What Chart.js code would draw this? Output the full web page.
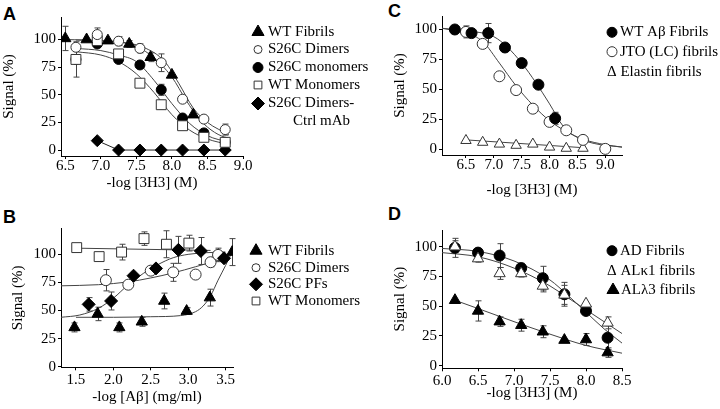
<!DOCTYPE html>
<html>
<head>
<meta charset="utf-8">
<script src="https://cdn.jsdelivr.net/npm/chart.js@4.4.1/dist/chart.umd.min.js"></script>
<style>
  body { margin: 0; background: #fff; width: 720px; height: 409px; overflow: hidden; position: relative; }
  canvas { position: absolute; }
  .pl { position: absolute; font: bold 18px/18px 'Liberation Sans', Arial, sans-serif; color: #000; }
</style>
</head>
<body>
<div class="pl" style="left:3px;top:5px">A</div>
<div class="pl" style="left:3px;top:208px">B</div>
<div class="pl" style="left:388px;top:2px">C</div>
<div class="pl" style="left:388px;top:205px">D</div>
<canvas id="chartA"></canvas>
<canvas id="chartB"></canvas>
<canvas id="chartC"></canvas>
<canvas id="chartD"></canvas>
<script>
const FONT = "'Liberation Serif', 'Times New Roman', Times, serif";

// ---- panel A : -log [3H3] (M) ----
const aTicksX = [6.5, 7.0, 7.5, 8.0, 8.5, 9.0];
const aTicksY = [0, 25, 50, 75, 100];
const aWtFibX = [6.5, 6.8, 7.1, 7.4, 7.7, 8.0, 8.3];
const aWtFibY = [101, 100, 99, 96, 84, 68, 32];
const aWtFibErr = [11, 0, 0, 3, 4, 0, 0];
const aDoseX = [6.65, 6.95, 7.25, 7.55, 7.85, 8.15, 8.45, 8.75];
const aDimY = [93, 104.5, 98.5, 92, 79, 46, 28, 18.5];
const aDimErr = [0, 6, 4, 4, 8, 0, 0, 5];
const aMonY = [82, 96, 82, 77, 54.5, 29, 15.5, 7];
const aMonErr = [0, 0, 0, 0, 5, 0, 0, 0];
const aWtMonY = [82, 99, 87, 60.5, 41, 22, 11.5, 7];
const aWtMonErr = [16, 3, 3, 3, 4, 0, 0, 0];
const aCtrlX = [6.95, 7.25, 7.55, 7.85, 8.15, 8.45, 8.75];
const aCtrlY = [8.5, 0, 0, 0, 0, 0, 0];
// fitted curves
const aFitWtFibX = [6.5, 7.0, 7.4, 7.7, 8.0, 8.2, 8.4, 8.6, 8.8];
const aFitWtFibY = [100, 99, 96, 86, 66, 45, 27, 16, 10];
const aFitDimX = [6.65, 7.0, 7.3, 7.6, 7.9, 8.1, 8.3, 8.5, 8.8];
const aFitDimY = [99.5, 99, 97.5, 93, 80, 60, 38, 25, 14];
const aFitMonX = [6.65, 7.0, 7.25, 7.5, 7.75, 8.0, 8.25, 8.5, 8.8];
const aFitMonY = [92, 90, 86, 80, 63, 42, 24, 13, 7];
const aFitWtMonY = [89, 86, 80, 69, 52, 32, 18, 10, 5];

// ---- panel B : -log [Aβ] (mg/ml) ----
const bTicksX = [1.5, 2.0, 2.5, 3.0, 3.5];
const bTicksY = [0, 25, 50, 75, 100];
const bWtFibX = [1.48, 1.79, 2.08, 2.38, 2.68, 2.98, 3.29, 3.59];
const bWtFibY = [35, 47, 35, 40, 58.5, 49.5, 61.5, 102];
const bWtFibErr = [4, 6, 4, 4, 7, 3, 7.5, 12];
const bDimX = [1.9, 2.2, 2.5, 2.8, 3.1, 3.3, 3.4];
const bDimY = [77, 73, 85.5, 84, 82, 93, 99.5];
const bDimErr = [9.5, 0, 0, 8, 0, 4, 6];
const bPfX = [1.67, 1.97, 2.27, 2.57, 2.87, 3.17, 3.48];
const bPfY = [55.5, 58.5, 81, 87.5, 104, 103, 96.5];
const bPfErr = [6, 8, 0, 0, 12, 12, 0];
const bMonX = [1.51, 1.81, 2.11, 2.41, 2.71, 3.01];
const bMonY = [106, 98, 102, 114, 109, 110];
const bMonErr = [0, 0, 7, 6, 12, 7];
const bFitMonX = [1.5, 3.3];
const bFitMonY = [105.5, 103.5];
const bFitPfX = [1.3, 1.55, 1.8, 2.0, 2.2, 2.4, 2.6, 2.8, 3.0, 3.25, 3.5];
const bFitPfY = [44, 46, 52, 61, 73, 83, 91, 97, 100, 101.5, 102];
const bFitDimX = [1.3, 1.8, 2.2, 2.5, 2.8, 3.1, 3.3, 3.6];
const bFitDimY = [72, 73, 75.5, 79, 83.5, 89, 93, 101];
const bFitWtFibX = [1.5, 2.0, 2.5, 2.9, 3.1, 3.2, 3.3, 3.4, 3.5, 3.58];
const bFitWtFibY = [44, 44, 44.5, 45.5, 49, 54, 63, 77, 90, 101];

// ---- panel C ----
const cTicksX = [6.5, 7.0, 7.5, 8.0, 8.5, 9.0];
const cTicksY = [0, 25, 50, 75, 100];
const cWtX = [6.3, 6.6, 6.9, 7.2, 7.5, 7.8, 8.1];
const cWtY = [100, 97, 97, 85, 72, 54, 26];
const cWtErr = [2, 0, 8, 3, 0, 0, 5];
const cJtoX = [6.5, 6.8, 7.1, 7.4, 7.7, 8.0, 8.3, 8.6, 9.0];
const cJtoY = [98, 88, 61, 49.5, 34, 23, 16, 8, 0.5];
const cJtoErr = [5, 0, 0, 0, 0, 0, 0, 0, 0];
const cElaX = [6.5, 6.8, 7.1, 7.4, 7.7, 8.0, 8.3, 8.6];
const cElaY = [7.5, 6, 4.5, 3.5, 4.5, 2, 1, 1];
const cFitWtX = [6.07, 6.5, 7.0, 7.25, 7.5, 7.75, 8.0, 8.25, 8.5, 8.8, 9.3];
const cFitWtY = [101, 99, 94, 85, 72, 56, 38, 19, 10, 5, 2];
const cFitJtoX = [6.07, 6.5, 6.8, 7.1, 7.4, 7.7, 8.0, 8.3, 8.6, 9.0, 9.3];
const cFitJtoY = [101, 97, 90, 72, 53, 37, 24, 15, 8.5, 4, 2];
const cFitElaX = [6.5, 8.6];
const cFitElaY = [8, 1.5];

// ---- panel D ----
const dTicksX = [6.0, 6.5, 7.0, 7.5, 8.0, 8.5];
const dTicksY = [0, 25, 50, 75, 100];
const dX = [6.18, 6.5, 6.8, 7.1, 7.4, 7.7, 8.0, 8.3];
const dAdY = [99, 95, 92.5, 82, 73.5, 60, 46, 23.5];
const dAdErr = [8, 3.5, 10, 4, 10, 10, 0, 10];
const dAlkY = [100, 90, 77.5, 77.5, 67, 59.5, 52, 36];
const dAlkErr = [5, 3, 5, 3, 5, 8, 0, 5];
const dAllY = [55, 46, 37, 34, 28.5, 21.5, 22, 11];
const dAllErr = [0, 8.5, 4, 5, 5, 0, 5, 4];
const dFitX = [6.0, 6.5, 7.0, 7.5, 7.75, 8.0, 8.25, 8.5];
const dFitAdY = [98.5, 96, 88, 72, 59, 45, 31, 19];
const dFitAlkY = [95, 91.5, 82, 67, 57, 47, 37, 27];
const dFitAllX = [6.18, 6.5, 7.0, 7.5, 8.0, 8.5];
const dFitAllY = [55, 48, 37, 26.5, 17, 10.5];

function pts(xs, ys) { return xs.map((x, i) => ({ x: x, y: ys[i] })); }

function marks(label, xs, ys, errs, style, filled, r, line) {
  return {
    label: label,
    data: pts(xs, ys),
    errs: errs,
    pointStyle: style,
    pointRadius: r,
    pointBackgroundColor: filled ? '#000' : '#fff',
    pointBorderColor: filled ? '#000' : '#333',
    pointBorderWidth: 1,
    showLine: !!line,
    borderColor: '#222',
    borderWidth: 1
  };
}

function fit(xs, ys) {
  return {
    data: pts(xs, ys),
    showLine: true,
    pointRadius: 0,
    borderColor: '#444',
    borderWidth: 1,
    cubicInterpolationMode: 'monotone'
  };
}

function drawMark(ctx, style, x, y, r) {
  ctx.beginPath();
  if (style === 'circle') {
    ctx.arc(x, y, r, 0, Math.PI * 2);
  } else if (style === 'triangle') {
    for (let k = 0; k < 3; k++) {
      const a = k * 2 * Math.PI / 3;
      const px = x + Math.sin(a) * r, py = y - Math.cos(a) * r;
      if (k === 0) ctx.moveTo(px, py); else ctx.lineTo(px, py);
    }
    ctx.closePath();
  } else if (style === 'rect') {
    const h = r * Math.SQRT1_2;
    ctx.rect(x - h, y - h, 2 * h, 2 * h);
  } else if (style === 'rectRot') {
    ctx.moveTo(x, y - r); ctx.lineTo(x + r, y); ctx.lineTo(x, y + r); ctx.lineTo(x - r, y);
    ctx.closePath();
  }
  ctx.fill();
  ctx.stroke();
}

const errorBars = {
  id: 'errorBars',
  beforeDatasetsDraw(chart) {
    const ctx = chart.ctx, x = chart.scales.x, y = chart.scales.y;
    ctx.save();
    ctx.strokeStyle = '#444';
    ctx.lineWidth = 1;
    chart.data.datasets.forEach(ds => {
      if (!ds.errs) return;
      ds.data.forEach((p, i) => {
        const e = ds.errs[i];
        if (!e) return;
        const px = Math.round(x.getPixelForValue(p.x)) + 0.5;
        const t = y.getPixelForValue(p.y + e), b = y.getPixelForValue(p.y - e);
        ctx.beginPath();
        ctx.moveTo(px, t); ctx.lineTo(px, b);
        ctx.moveTo(px - 3, t); ctx.lineTo(px + 3, t);
        ctx.moveTo(px - 3, b); ctx.lineTo(px + 3, b);
        ctx.stroke();
      });
    });
    ctx.restore();
  }
};

const sideLegend = {
  id: 'sideLegend',
  afterDraw(chart, args, o) {
    if (!o.items) return;
    const ctx = chart.ctx;
    ctx.save();
    ctx.font = '15px ' + FONT;
    ctx.textBaseline = 'middle';
    ctx.lineWidth = 1;
    o.items.forEach(it => {
      const y = it.y - o.top;
      if (it.mk) {
        ctx.fillStyle = it.fill ? '#000' : '#fff';
        ctx.strokeStyle = it.fill ? '#000' : '#333';
        drawMark(ctx, it.mk, it.mx - o.left, y, it.r);
      }
      ctx.fillStyle = '#000';
      ctx.fillText(it.text, it.tx - o.left, y);
    });
    ctx.restore();
  }
};

function makeChart(id, p) {
  const cv = document.getElementById(id);
  cv.width = p.W; cv.height = p.H;
  cv.style.left = p.L + 'px'; cv.style.top = p.T + 'px';
  cv.style.width = p.W + 'px'; cv.style.height = p.H + 'px';
  const tickFont = { family: FONT, size: 15 };
  const xTickFont = { family: FONT, size: 15, lineHeight: 1 };
  return new Chart(cv, {
    type: 'scatter',
    data: { datasets: p.datasets },
    plugins: [errorBars, sideLegend],
    options: {
      responsive: false,
      animation: false,
      events: [],
      layout: { autoPadding: false, padding: { left: 0, bottom: 0, top: p.top - p.T, right: p.L + p.W - p.right } },
      plugins: {
        legend: { display: false },
        tooltip: { enabled: false },
        sideLegend: { items: p.legend, left: p.L, top: p.T }
      },
      scales: {
        x: {
          type: 'linear', min: p.xMin, max: p.xMax,
          afterBuildTicks: s => { s.ticks = p.xTicks.map(v => ({ value: v })); },
          afterFit: s => { s.height = p.T + p.H - p.bottom; s.paddingLeft = 0; s.paddingRight = 0; },
          ticks: { font: xTickFont, color: '#000', padding: p.xPad, maxRotation: 0, autoSkip: false, callback: v => v.toFixed(1) },
          grid: { drawOnChartArea: false, drawTicks: true, tickLength: 3, color: '#000' },
          border: { display: true, color: '#000', width: 1 },
          title: { display: true, text: p.xTitle, font: tickFont, color: '#000', padding: 0 }
        },
        y: {
          type: 'linear', min: p.yMin, max: p.yMax,
          afterBuildTicks: s => { s.ticks = p.yTicks.map(v => ({ value: v })); },
          afterFit: s => { s.width = p.left - p.L; s.paddingTop = 0; s.paddingBottom = 0; },
          ticks: { font: tickFont, color: '#000', padding: 2, autoSkip: false, callback: v => String(v) },
          grid: { drawOnChartArea: false, drawTicks: true, tickLength: 3, color: '#000' },
          border: { display: true, color: '#000', width: 1 },
          title: { display: true, text: 'Signal (%)', font: tickFont, color: '#000', padding: 0 }
        }
      }
    }
  });
}

makeChart('chartA', {
  L: 0, T: 0, W: 390, H: 192, left: 61, right: 243, top: 17, bottom: 156, xPad: 0,
  xMin: 6.44, xMax: 9.0, yMin: -5.4, yMax: 120.4, xTicks: aTicksX, yTicks: aTicksY,
  xTitle: '-log [3H3] (M)',
  datasets: [
    marks('WT Fibrils', aWtFibX, aWtFibY, aWtFibErr, 'triangle', true, 6.5),
    marks('S26C Dimers', aDoseX, aDimY, aDimErr, 'circle', false, 5),
    marks('WT Monomers', aDoseX, aWtMonY, aWtMonErr, 'rect', false, 7),
    marks('S26C monomers', aDoseX, aMonY, aMonErr, 'circle', true, 5),
    marks('S26C Dimers-Ctrl mAb', aCtrlX, aCtrlY, null, 'rectRot', true, 6, true),
    fit(aFitWtFibX, aFitWtFibY),
    fit(aFitDimX, aFitDimY),
    fit(aFitMonX, aFitMonY),
    fit(aFitMonX, aFitWtMonY)
  ],
  legend: [
    { mk: 'triangle', fill: true, r: 7, mx: 258, y: 32, tx: 268, text: 'WT Fibrils' },
    { mk: 'circle', fill: false, r: 4, mx: 258, y: 49.5, tx: 268, text: 'S26C Dimers' },
    { mk: 'circle', fill: true, r: 5, mx: 258, y: 67.5, tx: 268, text: 'S26C monomers' },
    { mk: 'rect', fill: false, r: 5.5, mx: 258, y: 85, tx: 268, text: 'WT Monomers' },
    { mk: 'rectRot', fill: true, r: 6.5, mx: 258, y: 103.5, tx: 268, text: 'S26C Dimers-' },
    { y: 121.5, tx: 293, text: 'Ctrl mAb' }
  ]
});

makeChart('chartB', {
  L: 9, T: 200, W: 351, H: 206, left: 61, right: 233, top: 228.5, bottom: 367.3, xPad: 2,
  xMin: 1.3, xMax: 3.6, yMin: -0.5, yMax: 123, xTicks: bTicksX, yTicks: bTicksY,
  xTitle: '-log [Aβ] (mg/ml)',
  datasets: [
    marks('WT Fibrils', bWtFibX, bWtFibY, bWtFibErr, 'triangle', true, 6.5),
    marks('S26C PFs', bPfX, bPfY, bPfErr, 'rectRot', true, 6.5),
    marks('S26C Dimers', bDimX, bDimY, bDimErr, 'circle', false, 5.5),
    marks('WT Monomers', bMonX, bMonY, bMonErr, 'rect', false, 7),
    fit(bFitMonX, bFitMonY),
    fit(bFitPfX, bFitPfY),
    fit(bFitDimX, bFitDimY),
    fit(bFitWtFibX, bFitWtFibY)
  ],
  legend: [
    { mk: 'triangle', fill: true, r: 7, mx: 256, y: 250.7, tx: 268, text: 'WT Fibrils' },
    { mk: 'circle', fill: false, r: 4, mx: 256, y: 267.7, tx: 268, text: 'S26C Dimers' },
    { mk: 'rectRot', fill: true, r: 6.5, mx: 256, y: 284.3, tx: 268, text: 'S26C PFs' },
    { mk: 'rect', fill: false, r: 5.5, mx: 256, y: 301, tx: 268, text: 'WT Monomers' }
  ]
});

makeChart('chartC', {
  L: 391, T: 0, W: 329, H: 199, left: 442, right: 622, top: 16, bottom: 155, xPad: 0,
  xMin: 6.07, xMax: 9.3, yMin: -4.6, yMax: 111.25, xTicks: cTicksX, yTicks: cTicksY,
  xTitle: '-log [3H3] (M)',
  datasets: [
    marks('WT Aβ Fibrils', cWtX, cWtY, cWtErr, 'circle', true, 5.5),
    marks('JTO (LC) fibrils', cJtoX, cJtoY, cJtoErr, 'circle', false, 5.5),
    marks('Elastin fibrils', cElaX, cElaY, null, 'triangle', false, 6),
    fit(cFitWtX, cFitWtY),
    fit(cFitJtoX, cFitJtoY),
    fit(cFitElaX, cFitElaY)
  ],
  legend: [
    { mk: 'circle', fill: true, r: 5, mx: 612, y: 32.3, tx: 620, text: 'WT Aβ Fibrils' },
    { mk: 'circle', fill: false, r: 5, mx: 612, y: 51.7, tx: 620, text: 'JTO (LC) fibrils' },
    { y: 71.7, tx: 607, text: 'Δ Elastin fibrils' }
  ]
});

makeChart('chartD', {
  L: 391, T: 200, W: 329, H: 202, left: 442, right: 622, top: 230, bottom: 368.3, xPad: 2.5,
  xMin: 6.0, xMax: 8.5, yMin: -2.2, yMax: 114, xTicks: dTicksX, yTicks: dTicksY,
  xTitle: '-log [3H3] (M)',
  datasets: [
    marks('ALκ1 fibrils', dX, dAlkY, dAlkErr, 'triangle', false, 6.5),
    marks('AD Fibrils', dX, dAdY, dAdErr, 'circle', true, 5.5),
    marks('ALλ3 fibrils', dX, dAllY, dAllErr, 'triangle', true, 6.5),
    fit(dFitX, dFitAdY),
    fit(dFitX, dFitAlkY),
    fit(dFitAllX, dFitAllY)
  ],
  legend: [
    { mk: 'circle', fill: true, r: 5, mx: 612, y: 250.7, tx: 620, text: 'AD Fibrils' },
    { y: 271, tx: 607, text: 'Δ ALκ1 fibrils' },
    { mk: 'triangle', fill: true, r: 7, mx: 613, y: 290, tx: 621, text: 'ALλ3 fibrils' }
  ]
});
</script>
</body>
</html>
